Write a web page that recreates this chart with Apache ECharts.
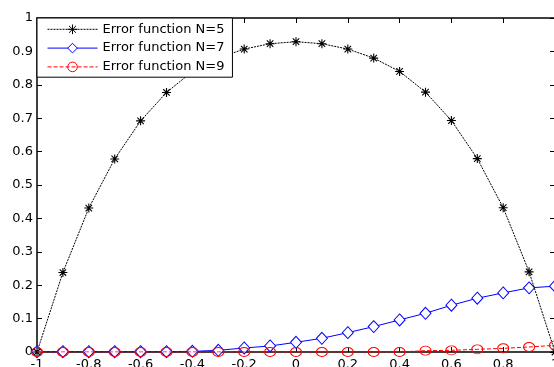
<!DOCTYPE html>
<html>
<head>
<meta charset="utf-8">
<script src="https://cdn.jsdelivr.net/npm/echarts@6/dist/echarts.min.js"></script>
<style>
  html, body { margin: 0; padding: 0; background: #fff; }
  #chart { width: 554px; height: 367px; }
</style>
</head>
<body>
<div id="chart"></div>
<script>
// x positions, -1 .. 1 step 0.1
var xs = [-1, -0.9, -0.8, -0.7, -0.6, -0.5, -0.4, -0.3, -0.2, -0.1, 0,
  0.1, 0.2, 0.3, 0.4, 0.5, 0.6, 0.7, 0.8, 0.9, 1]
var errN5 = [0, 0.238, 0.431, 0.578, 0.692, 0.777, 0.840, 0.880, 0.907, 0.923, 0.929,
  0.923, 0.907, 0.880, 0.840, 0.778, 0.693, 0.579, 0.432, 0.240, 0]
var errN7 = [0.001, 0.001, 0.001, 0.001, 0.001, 0.001, 0.002, 0.005, 0.012, 0.018, 0.029,
  0.041, 0.058, 0.076, 0.096, 0.116, 0.140, 0.161, 0.177, 0.192, 0.197]
var errN9 = [0, 0, 0, 0, 0, 0, 0, 0, 0, 0, 0,
  0, 0, 0, 0, 0.004, 0.005, 0.008, 0.011, 0.015, 0.020]
var names = ['Error function N=5', 'Error function N=7', 'Error function N=9']

function pairs (ys) {
  return xs.map(function (x, i) { return [x, ys[i]] })
}

var font = 'DejaVu Sans'
var star = 'path://M0,-5L0,5M-5,0L5,0M-3.6,-3.6L3.6,3.6M-3.6,3.6L3.6,-3.6'

var chart = echarts.init(document.getElementById('chart'))
chart.setOption({
  animation: false,
  backgroundColor: '#fff',
  grid: { left: 37, right: -1, top: 18, bottom: 15, outerBoundsMode: 'none' },
  legend: {
    orient: 'vertical',
    left: 37,
    top: 18,
    padding: [4, 8, 3, 10],
    itemGap: 5,
    itemWidth: 50,
    itemHeight: 12,
    borderColor: '#000',
    borderWidth: 1,
    borderRadius: 0,
    backgroundColor: '#fff',
    lineStyle: { width: 1 },
    itemStyle: { borderWidth: 1 },
    textStyle: { fontFamily: font, fontSize: 13, color: '#000' },
    data: names
  },
  xAxis: [{
    type: 'value',
    min: -1, max: 1, interval: 0.2,
    axisLine: { onZero: false, lineStyle: { color: '#000', width: 1.5 } },
    axisTick: { inside: true, length: 5, lineStyle: { color: '#000' } },
    axisLabel: { fontFamily: font, fontSize: 13, color: '#000', margin: 6 },
    splitLine: { show: false }
  }, {
    type: 'value', position: 'top',
    min: -1, max: 1, interval: 0.2,
    axisLine: { onZero: false, lineStyle: { color: '#000', width: 1.5 } },
    axisTick: { inside: true, length: 5, lineStyle: { color: '#000' } },
    axisLabel: { show: false },
    splitLine: { show: false }
  }],
  yAxis: [{
    type: 'value',
    min: 0, max: 1, interval: 0.1,
    axisLine: { onZero: false, lineStyle: { color: '#000', width: 1.5 } },
    axisTick: { inside: true, length: 5, lineStyle: { color: '#000' } },
    axisLabel: { fontFamily: font, fontSize: 13, color: '#000', margin: 4 },
    splitLine: { show: false }
  }, {
    type: 'value', position: 'right',
    min: 0, max: 1, interval: 0.1,
    axisLine: { onZero: false, lineStyle: { color: '#000', width: 1.5 } },
    axisTick: { inside: true, length: 5, lineStyle: { color: '#000' } },
    axisLabel: { show: false },
    splitLine: { show: false }
  }],
  series: [{
    name: names[0],
    type: 'line',
    data: pairs(errN5),
    symbol: star,
    symbolSize: 9,
    showAllSymbol: true,
    lineStyle: { color: '#000', width: 1, type: [2, 1] },
    itemStyle: { color: 'none', borderColor: '#000', borderWidth: 1.1 },
    z: 3
  }, {
    name: names[1],
    type: 'line',
    data: pairs(errN7),
    symbol: 'diamond',
    symbolSize: [11, 12],
    showAllSymbol: true,
    lineStyle: { color: '#0000ff', width: 1 },
    itemStyle: { color: '#fff', borderColor: '#0000ff', borderWidth: 1 },
    z: 2
  }, {
    name: names[2],
    type: 'line',
    data: pairs(errN9),
    symbol: 'circle',
    symbolSize: [11, 9],
    showAllSymbol: true,
    lineStyle: { color: '#ff0000', width: 1, type: [4, 2] },
    itemStyle: { color: 'none', borderColor: '#ff0000', borderWidth: 1 },
    z: 4
  }]
})
</script>
</body>
</html>
